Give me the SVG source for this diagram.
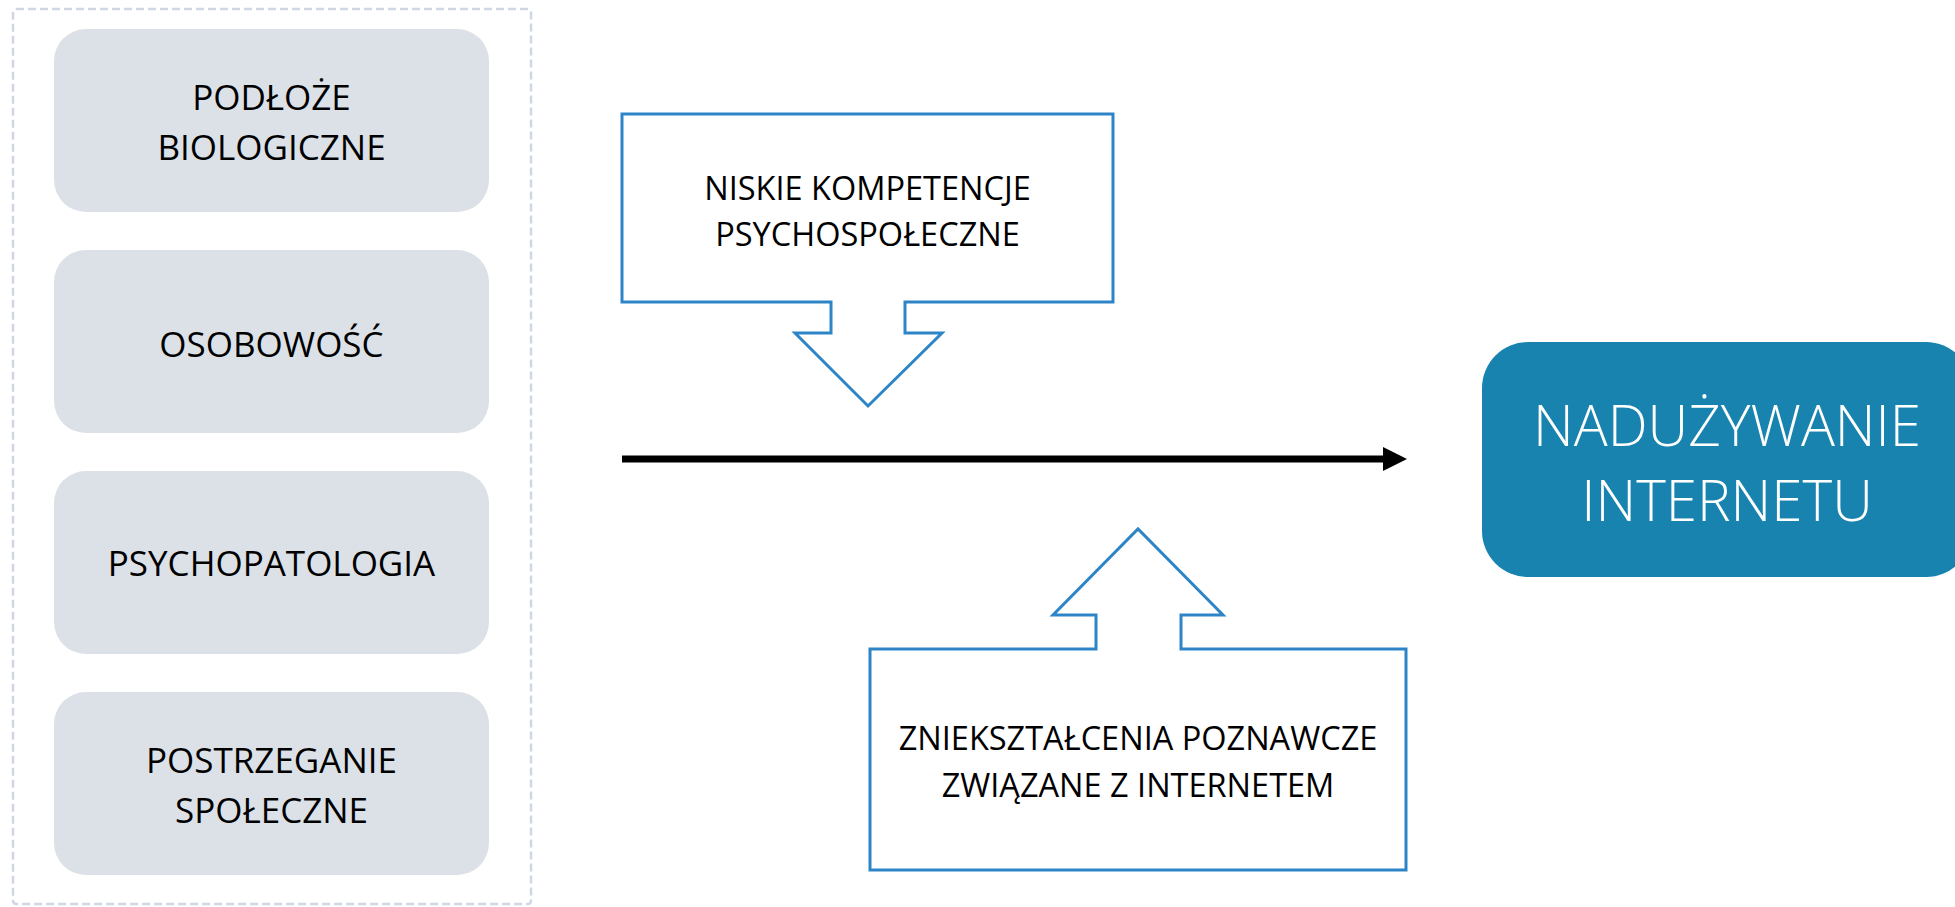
<svg xmlns="http://www.w3.org/2000/svg" width="1955" height="907" viewBox="0 0 1955 907">
  <defs>
    <style>
      .factor rect { fill: #dbe1e7; }
      .factor text { font-family: "Open Sans", "Liberation Sans", sans-serif; font-size: 35px; fill: #000; text-anchor: middle; }
      .callout path { fill: #ffffff; stroke: #2d85c7; stroke-width: 3; stroke-linejoin: miter; }
      .callout text { font-family: "Open Sans", "Liberation Sans", sans-serif; font-size: 32.5px; fill: #000; text-anchor: middle; }
      .target rect { fill: #1783ae; }
      .target text { font-family: "Open Sans", "Liberation Sans", sans-serif; font-weight: 300; font-size: 56.5px; fill: #ffffff; text-anchor: middle; }
      .frame { fill: none; stroke: #cfd8e2; stroke-width: 2.5; stroke-dasharray: 8 4; }
      .connector { stroke: #000; stroke-width: 7; fill: none; }
    </style>
    <marker id="arrowhead" markerUnits="userSpaceOnUse" markerWidth="24" markerHeight="24" refX="0" refY="12" orient="auto">
      <path d="M0,0 L24,12 L0,24 Z" fill="#000"/>
    </marker>
  </defs>

  <rect width="1955" height="907" fill="#ffffff"/>

  <rect id="frame" class="frame" x="13" y="9" width="518" height="895" rx="3"/>

  <g id="node-podloze" class="factor">
    <rect x="54" y="29" width="435" height="183" rx="32"/>
    <text x="271.5" y="110">PODŁOŻE</text>
    <text x="271.5" y="160">BIOLOGICZNE</text>
  </g>

  <g id="node-osobowosc" class="factor">
    <rect x="54" y="250" width="435" height="183" rx="32"/>
    <text x="271.5" y="357">OSOBOWOŚĆ</text>
  </g>

  <g id="node-psychopatologia" class="factor">
    <rect x="54" y="471" width="435" height="183" rx="32"/>
    <text x="271.5" y="576">PSYCHOPATOLOGIA</text>
  </g>

  <g id="node-postrzeganie" class="factor">
    <rect x="54" y="692" width="435" height="183" rx="32"/>
    <text x="271.5" y="773">POSTRZEGANIE</text>
    <text x="271.5" y="823">SPOŁECZNE</text>
  </g>

  <g id="node-kompetencje" class="callout">
    <path d="M622,114 H1113 V302 H905 V333 H942 L868,406 L795,333 H831 V302 H622 Z"/>
    <text x="867.5" y="200">NISKIE KOMPETENCJE</text>
    <text x="867.5" y="246">PSYCHOSPOŁECZNE</text>
  </g>

  <g id="node-znieksztalcenia" class="callout">
    <path d="M870,649 H1096 V615 H1053 L1138,529 L1223,615 H1181 V649 H1406 V870 H870 Z"/>
    <text x="1138" y="750">ZNIEKSZTAŁCENIA POZNAWCZE</text>
    <text x="1138" y="797">ZWIĄZANE Z INTERNETEM</text>
  </g>

  <g id="node-naduzywanie" class="target">
    <rect x="1482" y="342" width="490" height="235" rx="46"/>
    <text x="1727" y="446">NADUŻYWANIE</text>
    <text x="1727" y="521">INTERNETU</text>
  </g>

  <g id="connectors">
    <line class="connector" x1="622" y1="459" x2="1383" y2="459" marker-end="url(#arrowhead)"/>
  </g>
</svg>
